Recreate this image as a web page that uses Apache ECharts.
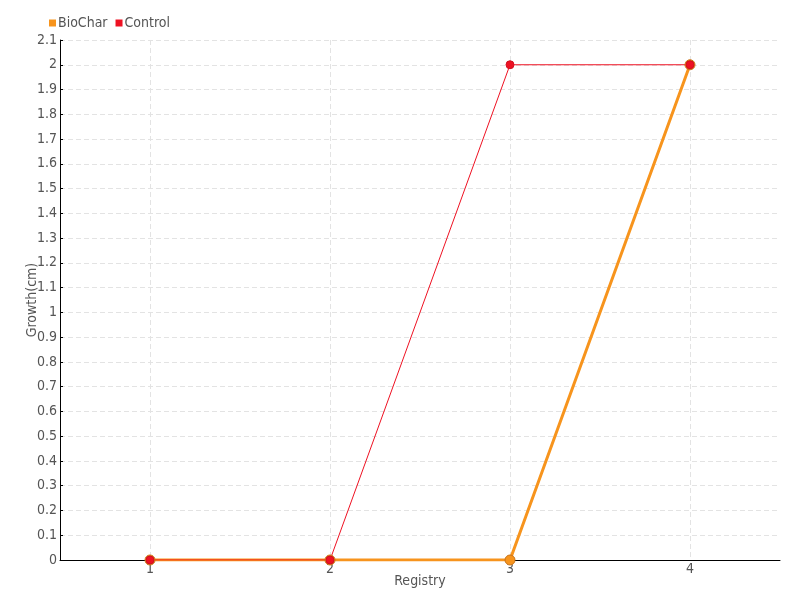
<!DOCTYPE html>
<html>
<head>
<meta charset="utf-8">
<script src="https://cdn.jsdelivr.net/npm/echarts@6/dist/echarts.min.js"></script>
<style>html,body{margin:0;padding:0;background:#fff}#c{width:800px;height:600px}</style>
</head>
<body>
<div id="c"></div>
<script>
var registry = [1, 2, 3, 4];
var bioChar = [0, 0, 0, 2];
var control = [0, 0, 2, 2];
var xTicks = [1, 2, 3, 4];

var FONT = "'Liberation Sans Narrow', 'DejaVu Sans Condensed', sans-serif";
var chart = echarts.init(document.getElementById('c'), null, {renderer: 'canvas'});
function pairs(xs, ys) { return xs.map(function (x, i) { return [x, ys[i]]; }); }
chart.setOption({
  animation: false,
  textStyle: {fontFamily: FONT},
  legend: {
    left: 44, top: 11, itemWidth: 7, itemHeight: 7, itemGap: 8,
    icon: 'rect',
    textStyle: {fontFamily: FONT, fontSize: 14, color: '#555', padding: [0, 0, 0, -3]},
    data: [{name: 'BioChar', itemStyle: {color: '#f7941d', borderWidth: 0}},
           {name: 'Control', itemStyle: {color: '#ee1122', borderWidth: 0}}]
  },
  grid: {left: 60, right: 20, top: 40, bottom: 40, containLabel: false},
  xAxis: {
    type: 'value', min: 0.5, max: 4.5,
    name: 'Registry', nameLocation: 'middle', nameGap: 14, nameMoveOverlap: false,
    nameTextStyle: {fontFamily: FONT, fontSize: 14, color: '#555'},
    axisLine: {show: true, onZero: false, lineStyle: {color: '#000', width: 1}},
    axisTick: {show: false, customValues: xTicks},
    axisLabel: {customValues: xTicks, margin: 2, fontFamily: FONT, fontSize: 14, color: '#555'},
    splitLine: {show: true, lineStyle: {color: '#e3e3e3', type: [5, 3], width: 1}}
  },
  yAxis: {
    type: 'value', min: 0, max: 2.1, interval: 0.1,
    name: 'Growth(cm)', nameLocation: 'middle', nameGap: 21, nameMoveOverlap: false,
    nameTextStyle: {fontFamily: FONT, fontSize: 14, color: '#555'},
    axisLine: {show: true, lineStyle: {color: '#000', width: 1}},
    axisTick: {show: true, inside: true, length: 3, lineStyle: {color: '#000'}},
    axisLabel: {margin: 3, fontFamily: FONT, fontSize: 14, color: '#555'},
    splitLine: {show: true, lineStyle: {color: '#e3e3e3', type: [5, 3], width: 1}}
  },
  series: [
    {
      name: 'BioChar', type: 'line', data: pairs(registry, bioChar),
      symbol: 'circle', symbolSize: 10,
      lineStyle: {color: '#f7941d', width: 3},
      itemStyle: {color: '#f7941d', borderColor: '#c8741a', borderWidth: 1}
    },
    {
      name: 'Control', type: 'line', data: pairs(registry, control),
      symbol: 'circle', symbolSize: 8,
      lineStyle: {color: '#ee1122', width: 1},
      itemStyle: {color: '#ee1122', borderColor: '#d01020', borderWidth: 1}
    }
  ]
});
</script>
</body>
</html>
